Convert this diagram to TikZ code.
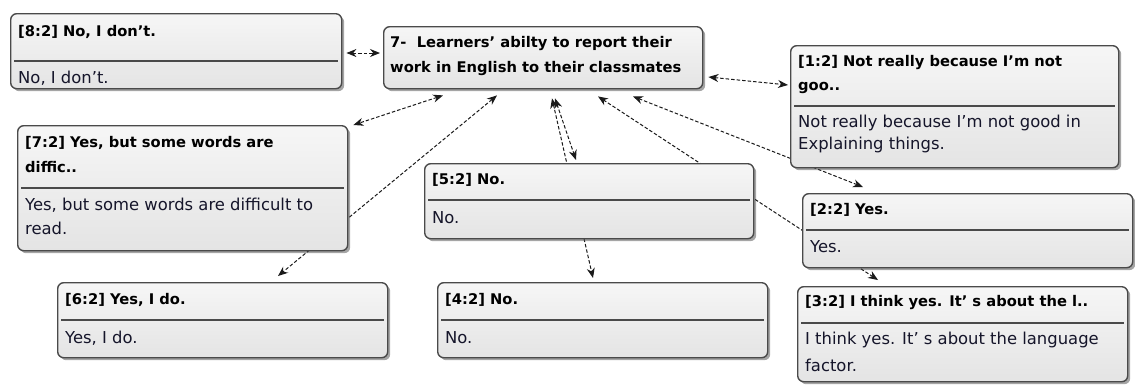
\documentclass[tikz,border=0pt]{standalone}
\usepackage{fontspec}
\setmainfont{DejaVu Sans}
\usetikzlibrary{arrows.meta,shadows,calc,backgrounds}
\definecolor{boxline}{HTML}{4A4A4A}
\definecolor{boxtop}{HTML}{F6F6F6}
\definecolor{boxbot}{HTML}{E4E4E4}
\definecolor{txt}{HTML}{15152A}
\definecolor{conncol}{HTML}{1A1A1A}
\tikzset{
  box/.style={draw=boxline, line width=1.4bp, rounded corners=6bp,
    top color=boxtop, bottom color=boxbot, inner sep=0pt, anchor=north west,
    drop shadow={shadow xshift=2.5bp, shadow yshift=-2.5bp, opacity=0.5, fill=black!70}},
  hdr/.style={anchor=west, inner sep=0pt, font=\fontsize{14.7bp}{17bp}\selectfont\bfseries, text=black},
  bdy/.style={anchor=west, inner sep=0pt, font=\fontsize{16.4bp}{19bp}\selectfont, text=txt},
  sep/.style={draw=boxline, line width=1.4bp},
  conn/.style={draw=conncol, line width=1bp, dash pattern=on 3.5bp off 2bp,
    {Stealth[length=10bp,width=8bp]}-{Stealth[length=10bp,width=8bp]}}
}
\begin{document}
\begin{tikzpicture}[x=1bp,y=-1bp]
\useasboundingbox (0,0) rectangle (1135,384);
% boxes
\node[box, minimum width=331bp, minimum height=75bp] (n82) at (10,13) {};
\node[box, minimum width=319bp, minimum height=62bp] (c) at (383,26) {};
\node[box, minimum width=328bp, minimum height=122bp] (n12) at (790,45) {};
\node[box, minimum width=330bp, minimum height=125bp] (n72) at (17,125) {};
\node[box, minimum width=329bp, minimum height=75bp] (n52) at (424,163) {};
\node[box, minimum width=330bp, minimum height=74bp] (n22) at (802,193) {};
\node[box, minimum width=330bp, minimum height=95bp] (n32) at (797,286) {};
\node[box, minimum width=330bp, minimum height=75bp] (n62) at (57,282) {};
\node[box, minimum width=330bp, minimum height=75bp] (n42) at (437,282) {};
% separators
\foreach \b/\y in {n82/48, n12/61, n72/63, n52/37, n22/37, n32/37, n62/38, n42/38}{
  \draw[sep] ($(\b.north west)+(4,\y)$) -- ($(\b.north east)+(-4,\y)$);
}
% texts
\node[hdr] (n82h) at ($(n82.north west)+(8,19)$) {[8:2] No, I don't.};
\node[bdy] (n82b) at ($(n82.north west)+(8,65)$) {No, I don't.};
\node[hdr] (ch1) at ($(c.north west)+(7,17)$) {7-\ \ Learners' abilty to report their};
\node[hdr] (ch2) at ($(c.north west)+(7,42)$) {work in English to their classmates};
\node[hdr] (n12h1) at ($(n12.north west)+(8,17)$) {[1:2] Not really because I'm not};
\node[hdr] (n12h2) at ($(n12.north west)+(8,43)$) {goo..};
\node[bdy] (n12b1) at ($(n12.north west)+(8,78)$) {Not really because I'm not good in};
\node[bdy] (n12b2) at ($(n12.north west)+(8,100)$) {Explaining things.};
\node[hdr] (n72h1) at ($(n72.north west)+(8,18)$) {[7:2] Yes, but some words are};
\node[hdr] (n72h2) at ($(n72.north west)+(8,42)$) {diffic..};
\node[bdy] (n72b1) at ($(n72.north west)+(8,80)$) {Yes, but some words are difficult to};
\node[bdy] (n72b2) at ($(n72.north west)+(8,103)$) {read.};
\node[hdr] (n52h) at ($(n52.north west)+(8,17)$) {[5:2] No.};
\node[bdy] (n52b) at ($(n52.north west)+(8,55)$) {No.};
\node[hdr] (n22h) at ($(n22.north west)+(8,17)$) {[2:2] Yes.};
\node[bdy] (n22b) at ($(n22.north west)+(8,54)$) {Yes.};
\node[hdr] (n32h) at ($(n32.north west)+(8,16)$) {[3:2] I think yes. It' s about the l..};
\node[bdy] (n32b1) at ($(n32.north west)+(8,54)$) {I think yes. It' s about the language};
\node[bdy] (n32b2) at ($(n32.north west)+(8,79)$) {factor.};
\node[hdr] (n62h) at ($(n62.north west)+(8,18)$) {[6:2] Yes, I do.};
\node[bdy] (n62b) at ($(n62.north west)+(8,56)$) {Yes, I do.};
\node[hdr] (n42h) at ($(n42.north west)+(8,18)$) {[4:2] No.};
\node[bdy] (n42b) at ($(n42.north west)+(8,56)$) {No.};
% connectors
\begin{scope}[on background layer]
\draw[conn] ($(n82.north east)+(4,40)$) -- ($(c.north west)+(-3,27)$);
\draw[conn] ($(c.north east)+(5,51)$) -- ($(n12.north west)+(-2,40)$);
\draw[conn] ($(c.south west)+(60,6)$) -- ($(n72.north east)+(5,0)$);
\draw[conn] ($(c.south west)+(114,6)$) -- ($(n62.north west)+(221,-6)$);
\draw[conn] ($(c.south west)+(172,9)$) -- ($(n52.north west)+(152,-3)$);
\draw[conn] ($(c.south west)+(169,9)$) -- ($(n42.north west)+(156,-4)$);
\draw[conn] ($(c.south west)+(215,7)$) -- ($(n32.north west)+(81,-6)$);
\draw[conn] ($(c.south west)+(250,7)$) -- ($(n22.north west)+(61,-6)$);
\end{scope}
\end{tikzpicture}
\end{document}
